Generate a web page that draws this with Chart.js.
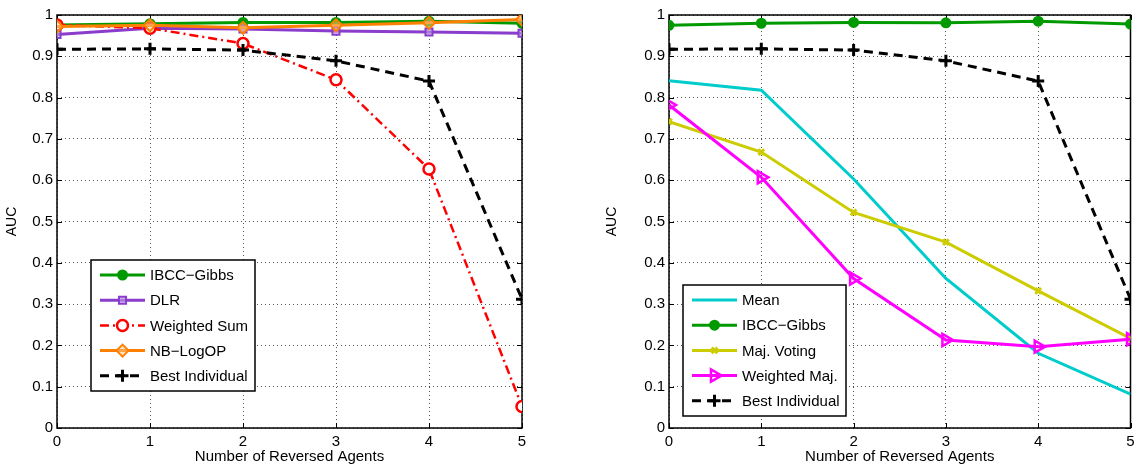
<!DOCTYPE html>
<html>
<head>
<meta charset="utf-8">
<script src="https://cdn.jsdelivr.net/npm/chart.js@4.4.0/dist/chart.umd.min.js"></script>
<style>
  html, body { margin: 0; padding: 0; background: #fff; }
  #wrap { position: relative; width: 1140px; height: 470px; }
  .box { position: absolute; top: 0; height: 470px; }
</style>
</head>
<body>
<div id="wrap">
  <div class="box" style="left:0;width:540px"><canvas id="leftChart"></canvas></div>
  <div class="box" style="left:600px;width:540px"><canvas id="rightChart"></canvas></div>
</div>
<script>
// categorias: numero de agentes invertidos
const agentes = [0, 1, 2, 3, 4, 5];
const yTicks = [0, 0.1, 0.2, 0.3, 0.4, 0.5, 0.6, 0.7, 0.8, 0.9, 1];

// grafico izquierdo
const ibccIzq = [0.976, 0.979, 0.982, 0.982, 0.985, 0.980];
const dlr = [0.953, 0.968, 0.966, 0.961, 0.959, 0.956];
const sumaPonderada = [0.976, 0.968, 0.931, 0.843, 0.627, 0.052];
const nbLogOP = [0.972, 0.975, 0.969, 0.975, 0.981, 0.989];
const mejorIndividual = [0.917, 0.918, 0.915, 0.889, 0.840, 0.312];

// grafico derecho
const media = [0.841, 0.818, 0.603, 0.362, 0.181, 0.082];
const ibccDer = [0.975, 0.980, 0.982, 0.981, 0.985, 0.978];
const votoMayoria = [0.742, 0.668, 0.522, 0.450, 0.332, 0.217];
const mayoriaPonderada = [0.782, 0.607, 0.362, 0.213, 0.197, 0.215];

const FONT = 'Liberation Sans, Arial, Helvetica, sans-serif';

function puntos(valores) {
  return valores.map((v, i) => ({ x: agentes[i], y: v }));
}

function serie(label, valores, color, extra) {
  return Object.assign({
    label: label,
    data: puntos(valores),
    borderColor: color,
    backgroundColor: color,
    pointBorderColor: color,
    borderWidth: 3,
    pointRadius: 5,
    pointBorderWidth: 2,
    pointStyle: 'circle',
    tension: 0,
    fill: false
  }, extra);
}

// marco, marcas interiores y leyenda
const marcoPlugin = {
  id: 'marco',
  beforeDatasetsDraw(chart) {
    const a = chart.chartArea, c = chart.ctx;
    const xs = chart.scales.x, ys = chart.scales.y;
    c.save();
    c.strokeStyle = '#000';
    c.lineWidth = 1;
    c.beginPath();
    agentes.forEach(v => {
      const px = Math.round(xs.getPixelForValue(v)) + 0.5;
      c.moveTo(px, a.bottom); c.lineTo(px, a.bottom - 5);
      c.moveTo(px, a.top); c.lineTo(px, a.top + 5);
    });
    yTicks.forEach(v => {
      const py = Math.round(ys.getPixelForValue(v)) + 0.5;
      c.moveTo(a.left, py); c.lineTo(a.left + 5, py);
      c.moveTo(a.right, py); c.lineTo(a.right - 5, py);
    });
    c.stroke();
    c.lineWidth = 1.5;
    c.strokeRect(a.left, a.top, a.right - a.left, a.bottom - a.top);
    c.restore();
  },
  afterDraw(chart, args, opts) {
    const c = chart.ctx;
    const items = chart.data.datasets;
    const x0 = opts.x, y0 = opts.y, w = opts.w, rowH = 25.2;
    const h = items.length * rowH + 5;
    c.save();
    c.fillStyle = '#fff';
    c.fillRect(x0, y0, w, h);
    c.strokeStyle = '#000';
    c.lineWidth = 1.5;
    c.strokeRect(x0, y0, w, h);
    c.font = '15px ' + FONT;
    c.textBaseline = 'middle';
    items.forEach((ds, i) => {
      const cy = y0 + 15 + i * rowH;
      const lx1 = x0 + 9, lx2 = x0 + 54;
      c.strokeStyle = ds.borderColor;
      c.lineWidth = ds.borderWidth;
      c.setLineDash(ds.borderDash || []);
      c.beginPath();
      c.moveTo(lx1, cy); c.lineTo(lx2, cy);
      c.stroke();
      c.setLineDash([]);
      if (ds.pointRadius > 0) {
        c.fillStyle = ds.pointBackgroundColor || ds.backgroundColor;
        c.strokeStyle = ds.pointBorderColor;
        c.lineWidth = ds.pointBorderWidth;
        Chart.helpers.drawPoint(c, {
          pointStyle: ds.pointStyle,
          rotation: ds.pointRotation || 0,
          radius: ds.pointRadius,
          borderWidth: ds.pointBorderWidth
        }, (lx1 + lx2) / 2, cy);
      }
      c.fillStyle = '#000';
      c.fillText(ds.label, x0 + 59, cy + 1);
    });
    c.restore();
  }
};

function opciones(anchoY, padDer, leyenda) {
  return {
    responsive: true,
    maintainAspectRatio: false,
    animation: false,
    layout: { padding: { top: 15, right: padDer, left: 0, bottom: 0 } },
    plugins: {
      legend: { display: false },
      tooltip: { enabled: false },
      marco: leyenda
    },
    scales: {
      x: {
        type: 'linear',
        min: 0, max: 5,
        afterBuildTicks: s => { s.ticks = agentes.map(v => ({ value: v })); },
        afterFit: s => { s.height = 42; },
        grid: { color: '#555', lineWidth: 1, drawTicks: false },
        border: { display: false, dash: [1, 3] },
        ticks: { color: '#000', font: { family: FONT, size: 15 }, padding: 5, maxRotation: 0 },
        title: { display: true, text: 'Number of Reversed Agents', color: '#000', font: { family: FONT, size: 15 }, padding: { top: 0 } }
      },
      y: {
        min: 0, max: 1,
        afterBuildTicks: s => { s.ticks = yTicks.map(v => ({ value: v })); },
        afterFit: s => { s.width = anchoY; },
        grid: { color: '#555', lineWidth: 1, drawTicks: false },
        border: { display: false, dash: [1, 3] },
        ticks: { color: '#000', font: { family: FONT, size: 15 }, padding: 4, callback: v => String(Math.round(v * 10) / 10) },
        title: { display: true, text: 'AUC', color: '#000', font: { family: FONT, size: 14 }, padding: { bottom: 0 } }
      }
    }
  };
}

new Chart(document.getElementById('leftChart').getContext('2d'), {
  type: 'line',
  data: {
    datasets: [
      serie('IBCC\u2212Gibbs', ibccIzq, '#009a00', { pointRadius: 4.5, order: 5 }),
      serie('DLR', dlr, '#8a3ccc', { pointStyle: 'rect', pointRadius: 5, pointBackgroundColor: 'rgba(190,160,230,0.6)', order: 4 }),
      serie('Weighted Sum', sumaPonderada, '#ff0000', { borderDash: [9, 4, 2, 4], borderWidth: 2.5, pointRadius: 5.5, pointBorderWidth: 2.5, pointBackgroundColor: '#fff', order: 3 }),
      serie('NB\u2212LogOP', nbLogOP, '#ff8000', { pointStyle: 'rectRot', pointRadius: 6, pointBackgroundColor: 'rgba(255,200,140,0.5)', order: 2 }),
      serie('Best Individual', mejorIndividual, '#000000', { borderDash: [9, 6], pointStyle: 'cross', pointRadius: 6, pointBorderWidth: 3, order: 1 })
    ]
  },
  options: opciones(57, 18, { x: 91, y: 260, w: 164 }),
  plugins: [marcoPlugin]
});

new Chart(document.getElementById('rightChart').getContext('2d'), {
  type: 'line',
  data: {
    datasets: [
      serie('Mean', media, '#00cccc', { pointRadius: 0, order: 5 }),
      serie('IBCC\u2212Gibbs', ibccDer, '#009a00', { pointRadius: 4.5, order: 4 }),
      serie('Maj. Voting', votoMayoria, '#cccc00', { pointStyle: 'crossRot', pointRadius: 4, pointBorderWidth: 3, order: 3 }),
      serie('Weighted Maj.', mayoriaPonderada, '#ff00ff', { pointStyle: 'triangle', pointRotation: 90, pointRadius: 7, pointBorderWidth: 2.5, pointBackgroundColor: 'rgba(255,255,255,0)', order: 2 }),
      serie('Best Individual', mejorIndividual, '#000000', { borderDash: [9, 6], pointStyle: 'cross', pointRadius: 6, pointBorderWidth: 3, order: 1 })
    ]
  },
  options: opciones(69, 6, { x: 83, y: 285, w: 163 }),
  plugins: [marcoPlugin]
});
</script>
</body>
</html>
